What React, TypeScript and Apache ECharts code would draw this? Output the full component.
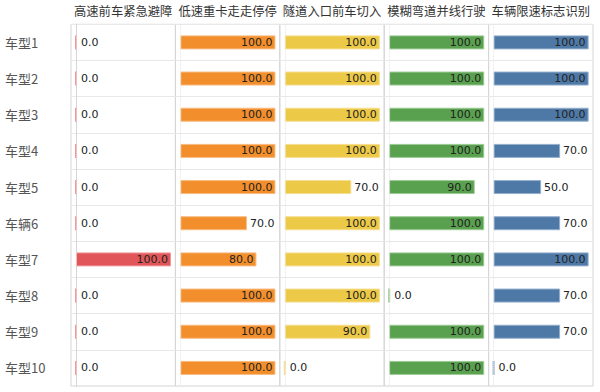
import React, { useEffect, useRef } from "react";
import * as echarts from "echarts";

const models = ["车型1", "车型2", "车型3", "车型4", "车型5", "车辆6", "车型7", "车型8", "车型9", "车型10"];
const scenarios = ["高速前车紧急避障", "低速重卡走走停停", "隧道入口前车切入", "模糊弯道并线行驶", "车辆限速标志识别"];
const emergencyAvoid = [0, 0, 0, 0, 0, 0, 100, 0, 0, 0];
const lowSpeedTruck = [100, 100, 100, 100, 100, 70, 80, 100, 100, 100];
const tunnelCutIn = [100, 100, 100, 100, 70, 100, 100, 100, 90, 0];
const blurCurveMerge = [100, 100, 100, 100, 90, 100, 100, 0, 100, 100];
const speedSignRecog = [100, 100, 100, 70, 50, 70, 100, 70, 70, 0];
const seriesValues = [emergencyAvoid, lowSpeedTruck, tunnelCutIn, blurCurveMerge, speedSignRecog];
const colors = ["#E15759", "#F28E2B", "#EDC948", "#59A14F", "#4E79A7"];
const borderColors = ["#F29A9B", "#F8BB80", "#F5DE8F", "#9BCB94", "#94AFCC"];

const FONT = "'Noto Sans CJK SC', sans-serif";
const NUM_FONT = "'DejaVu Sans', sans-serif";

export default function App() {
  const ref = useRef<HTMLDivElement>(null);
  useEffect(() => {
    const chart = echarts.init(ref.current!, null, { renderer: "svg" });
    const top = 14;
    const height = 372;
    const left0 = 71;
    const colW = 104.4;
    const grids: any[] = [];
    const xAxes: any[] = [];
    const yAxes: any[] = [];
    const series: any[] = [];
    scenarios.forEach((name, i) => {
      grids.push({
        left: left0 + colW * i,
        top,
        width: colW,
        height,
        show: true,
        borderColor: "#d6d6d6",
        borderWidth: 1,
        containLabel: false,
      });
      xAxes.push({
        gridIndex: i,
        type: "value",
        min: -5.26,
        max: 104.6,
        position: "top",
        name,
        nameLocation: "middle",
        nameGap: 7,
        nameTextStyle: { color: "#333", fontSize: 12.3, fontFamily: FONT },
        axisLine: { show: false },
        axisTick: { show: false },
        axisLabel: { show: false },
        splitLine: { show: false },
      });
      yAxes.push({
        gridIndex: i,
        type: "category",
        data: models,
        inverse: true,
        axisLine: { show: i === 0, lineStyle: { color: "#c8c8c8" } },
        axisTick: { show: false },
        axisLabel: {
          show: i === 0,
          align: "left",
          margin: 66,
          color: "#555",
          fontSize: 13,
          fontFamily: FONT,
        },
        splitLine: { show: true, lineStyle: { color: "#e8e8e8", width: 1 } },
      });
      series.push({
        type: "bar",
        xAxisIndex: i,
        yAxisIndex: i,
        barWidth: 14,
        data: seriesValues[i].map((v) => ({
          value: v,
          itemStyle:
            v === 0
              ? { borderColor: borderColors[i], borderWidth: 2 }
              : undefined,
          label: {
            show: true,
            position: v >= 80 ? "insideRight" : "right",
            distance: v === 0 ? 4 : 3,
          },
        })),
        itemStyle: { color: colors[i], borderColor: borderColors[i], borderWidth: 1 },
        label: {
          show: true,
          color: "#222",
          fontSize: 11,
          fontFamily: NUM_FONT,
          formatter: (p: any) => Number(p.value).toFixed(1),
        },
        markLine: {
          silent: true,
          symbol: "none",
          label: { show: false },
          lineStyle: { color: "#e4e4e4", type: "dotted", width: 1 },
          data: [{ xAxis: 0 }],
        },
      });
    });
    chart.setOption({
      animation: false,
      backgroundColor: "#ffffff",
      grid: grids,
      xAxis: xAxes,
      yAxis: yAxes,
      series,
    });
    return () => chart.dispose();
  }, []);
  return (
    <div
      ref={ref}
      style={{ position: "absolute", left: 0, top: 0, width: 600, height: 392 }}
    />
  );
}
